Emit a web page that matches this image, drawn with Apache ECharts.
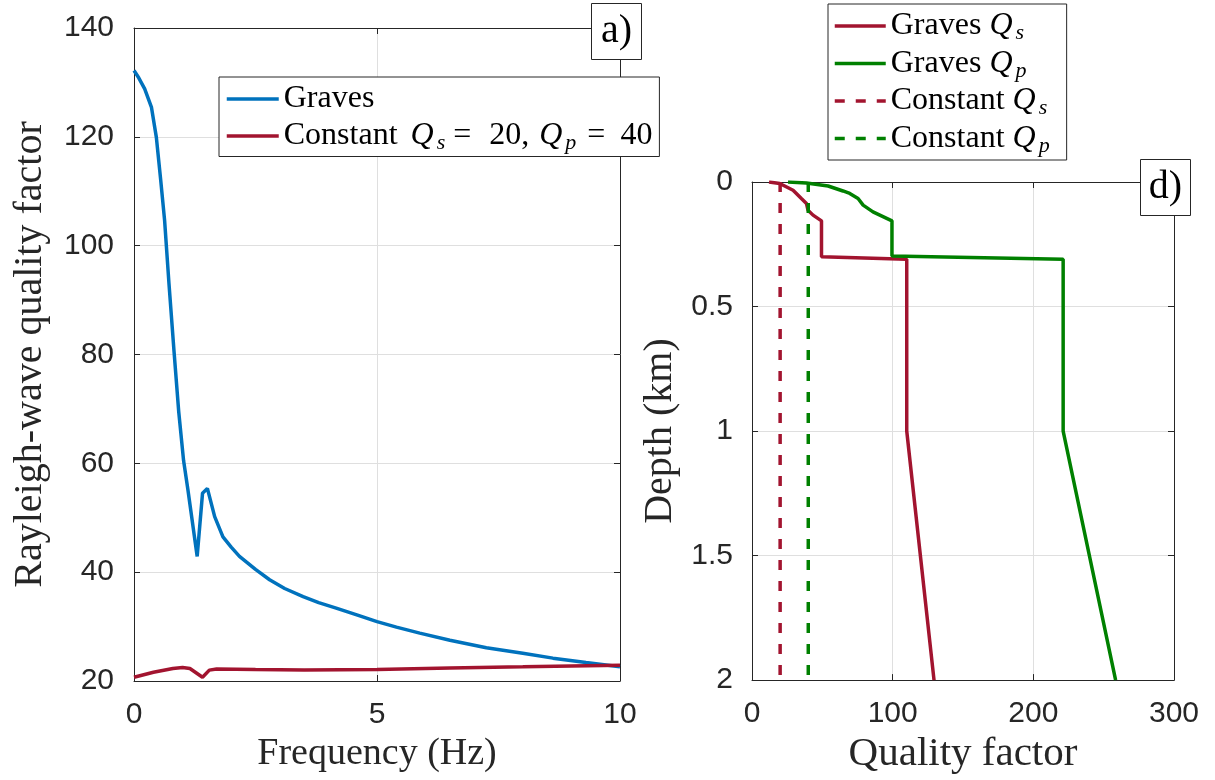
<!DOCTYPE html>
<html>
<head>
<meta charset="utf-8">
<script src="https://cdn.jsdelivr.net/npm/echarts@6/dist/echarts.min.js"></script>
<style>
html,body{margin:0;padding:0;background:#fff;}
#chart{width:1215px;height:780px;}
</style>
</head>
<body>
<div id="chart"></div>
<script>
// ---- Panel a) : Rayleigh-wave quality factor vs frequency ----
const freqGraves = [0, 0.1, 0.22, 0.36, 0.46, 0.55, 0.63, 0.72, 0.82, 0.92, 1.02, 1.11, 1.30, 1.41, 1.51, 1.66, 1.83, 2.0, 2.17, 2.5, 2.79, 3.1, 3.48, 3.8, 4.16, 4.6, 5.0, 5.4, 5.88, 6.5, 7.25, 8.0, 8.62, 9.3, 10];
const qGraves    = [132.2, 130.8, 128.8, 125.4, 119.9, 112, 104.6, 93, 81, 69.5, 60.5, 55.1, 42.9, 54.5, 55.4, 50.2, 46.5, 44.6, 42.9, 40.5, 38.6, 37, 35.5, 34.4, 33.4, 32.1, 30.9, 29.9, 28.8, 27.5, 26.1, 25.1, 24.2, 23.4, 22.6];
const freqConst  = [0, 0.4, 0.8, 1.0, 1.15, 1.41, 1.55, 1.7, 2.5, 3.5, 5, 6.5, 8, 9, 10];
const qConst     = [20.7, 21.6, 22.3, 22.5, 22.3, 20.7, 22.0, 22.2, 22.1, 22.0, 22.1, 22.4, 22.6, 22.75, 22.9];

// ---- Panel d) : quality factor vs depth ----
const depthQs    = [0, 0.006, 0.033, 0.066, 0.086, 0.113, 0.133, 0.156, 0.30, 0.31, 1.0, 2.0];
const gravesQs   = [12.1, 19.7, 29.2, 35.1, 38.7, 39.8, 43.4, 49.4, 49.4, 110, 110, 129.4];
const depthQp    = [0, 0.004, 0.016, 0.036, 0.046, 0.066, 0.093, 0.12, 0.156, 0.297, 0.31, 1.0, 2.0];
const gravesQp   = [25.6, 38.7, 54.1, 64.7, 69.5, 75.4, 79, 86, 99.5, 99.5, 221.2, 221.2, 258.5];
const depthConst = [0, 2];
const constQs    = [20, 20];
const constQp    = [40, 40];

const pairs = (xs, ys) => xs.map((x, i) => [x, ys[i]]);
const pairsYX = (ds, qs) => ds.map((d, i) => [qs[i], d]);

const AX = '#262626', GRID = '#dfdfdf';
const BLUE = '#0072BD', RED = '#A2142F', GREEN = '#008000';
const SANS = 'Liberation Sans', SERIF = 'Liberation Serif';
const LW = 3.5;

function mainAxis(o) {
  return Object.assign({
    type: 'value',
    axisLine: {show: true, onZero: false, lineStyle: {color: AX, width: 1}},
    axisTick: {show: true, inside: true, length: 6, lineStyle: {color: AX}},
    splitLine: {show: true, lineStyle: {color: GRID, width: 1}},
    nameLocation: 'middle'
  }, o);
}
function boxAxis(o) {
  return Object.assign({
    type: 'value',
    axisLine: {show: true, onZero: false, lineStyle: {color: AX, width: 1}},
    axisTick: {show: true, inside: true, length: 6, lineStyle: {color: AX}},
    axisLabel: {show: false},
    splitLine: {show: false}
  }, o);
}
const tickLabel = (margin) => ({fontFamily: SANS, fontSize: 30, color: AX, margin: margin});
const nameStyle = (size) => ({fontFamily: SERIF, fontSize: size, color: AX});

const T = {fontFamily: SERIF, fontSize: 32, color: '#000', lineHeight: 37};
const M = Object.assign({}, T, {fontStyle: 'italic'});
const richBase = {
  t: T,
  m: M,
  mA: Object.assign({}, M, {padding: [0, 0, 0, 5]}),
  mB: Object.assign({}, M, {padding: [0, 0, 0, 10]}),
  eqA: Object.assign({}, T, {padding: [0, 18, 0, 8]}),
  eqB: Object.assign({}, T, {padding: [0, 15, 0, 11]}),
  sub: {fontFamily: SERIF, fontStyle: 'italic', fontSize: 22, color: '#000', lineHeight: 22,
        verticalAlign: 'bottom', padding: [0, 0, 0, 3]}
};
const legendLabels = {
  'Graves': '{t|Graves}',
  'Constant': '{t|Constant }{mA|Q}{sub|s}{eqA|=}{t|20,}{mB|Q}{sub|p}{eqB|=}{t|40}',
  'Graves Qs': '{t|Graves }{m|Q}{sub|s}',
  'Graves Qp': '{t|Graves }{m|Q}{sub|p}',
  'Constant Qs': '{t|Constant }{m|Q}{sub|s}',
  'Constant Qp': '{t|Constant }{m|Q}{sub|p}'
};

const chart = echarts.init(document.getElementById('chart'), null, {renderer: 'canvas'});
const option = {
  backgroundColor: '#fff',
  animation: false,
  grid: [
    {left: 134, top: 28, width: 486, height: 653},
    {left: 752, top: 182, width: 422, height: 500}
  ],
  xAxis: [
    mainAxis({gridIndex: 0, min: 0, max: 10, interval: 5, name: 'Frequency (Hz)', nameGap: 54,
      axisLabel: tickLabel(19), nameTextStyle: nameStyle(38)}),
    boxAxis({gridIndex: 0, min: 0, max: 10, interval: 5, position: 'top'}),
    mainAxis({gridIndex: 1, min: 0, max: 300, interval: 100, name: 'Quality factor', nameGap: 53,
      axisLabel: tickLabel(19), nameTextStyle: nameStyle(41)}),
    boxAxis({gridIndex: 1, min: 0, max: 300, interval: 100, position: 'top'})
  ],
  yAxis: [
    mainAxis({gridIndex: 0, min: 20, max: 140, interval: 20, name: 'Rayleigh-wave quality factor', nameGap: 84,
      axisLabel: tickLabel(20), nameTextStyle: nameStyle(40)}),
    boxAxis({gridIndex: 0, min: 20, max: 140, interval: 20, position: 'right'}),
    mainAxis({gridIndex: 1, min: 0, max: 2, interval: 0.5, inverse: true, name: 'Depth (km)', nameGap: 72,
      axisLabel: tickLabel(19), nameTextStyle: nameStyle(40)}),
    boxAxis({gridIndex: 1, min: 0, max: 2, interval: 0.5, inverse: true, position: 'right'})
  ],
  legend: [
    {
      data: ['Graves', 'Constant'], orient: 'vertical', left: 219, top: 77,
      padding: [6, 7, 2, 6], itemGap: 5, itemWidth: 52, itemHeight: 14,
      borderColor: AX, borderWidth: 1, backgroundColor: '#fff', selectedMode: false, z: 10,
      itemStyle: {opacity: 0}, lineStyle: {width: LW},
      formatter: n => legendLabels[n], textStyle: {rich: richBase}
    },
    {
      data: ['Graves Qs', 'Graves Qp', 'Constant Qs', 'Constant Qp'], orient: 'vertical', left: 828, top: 4,
      padding: [6, 17, 3, 5], itemGap: 3, itemWidth: 51, itemHeight: 14,
      borderColor: AX, borderWidth: 1, backgroundColor: '#fff', selectedMode: false, z: 10,
      itemStyle: {opacity: 0}, lineStyle: {width: LW},
      formatter: n => legendLabels[n], textStyle: {rich: richBase}
    }
  ],
  series: [
    {name: 'Graves', type: 'line', xAxisIndex: 0, yAxisIndex: 0, data: pairs(freqGraves, qGraves),
     symbol: 'none', lineStyle: {color: BLUE, width: LW}, itemStyle: {color: BLUE}},
    {name: 'Constant', type: 'line', xAxisIndex: 0, yAxisIndex: 0, data: pairs(freqConst, qConst),
     symbol: 'none', lineStyle: {color: RED, width: LW}, itemStyle: {color: RED}},
    {name: 'Graves Qs', type: 'line', xAxisIndex: 2, yAxisIndex: 2, data: pairsYX(depthQs, gravesQs),
     symbol: 'none', lineStyle: {color: RED, width: LW}, itemStyle: {color: RED}},
    {name: 'Graves Qp', type: 'line', xAxisIndex: 2, yAxisIndex: 2, data: pairsYX(depthQp, gravesQp),
     symbol: 'none', lineStyle: {color: GREEN, width: LW}, itemStyle: {color: GREEN}},
    {name: 'Constant Qs', type: 'line', xAxisIndex: 2, yAxisIndex: 2, data: pairsYX(depthConst, constQs),
     symbol: 'none', lineStyle: {color: RED, width: LW, type: [10, 11]}, itemStyle: {color: RED}},
    {name: 'Constant Qp', type: 'line', xAxisIndex: 2, yAxisIndex: 2, data: pairsYX(depthConst, constQp),
     symbol: 'none', lineStyle: {color: GREEN, width: LW, type: [10, 11]}, itemStyle: {color: GREEN}}
  ],
  graphic: [
    {type: 'rect', z: 100, shape: {x: 591.5, y: 3.5, width: 50, height: 56},
     style: {fill: '#fff', stroke: AX, lineWidth: 1}},
    {type: 'text', z: 101, x: 616.5, y: 31.5,
     style: {text: 'a)', font: '40px "Liberation Serif"', fill: '#000', textAlign: 'center', textVerticalAlign: 'middle'}},
    {type: 'rect', z: 100, shape: {x: 1140.5, y: 159.5, width: 50, height: 56},
     style: {fill: '#fff', stroke: AX, lineWidth: 1}},
    {type: 'text', z: 101, x: 1165.5, y: 187.5,
     style: {text: 'd)', font: '40px "Liberation Serif"', fill: '#000', textAlign: 'center', textVerticalAlign: 'middle'}}
  ]
};
chart.setOption(option);
</script>
</body>
</html>
